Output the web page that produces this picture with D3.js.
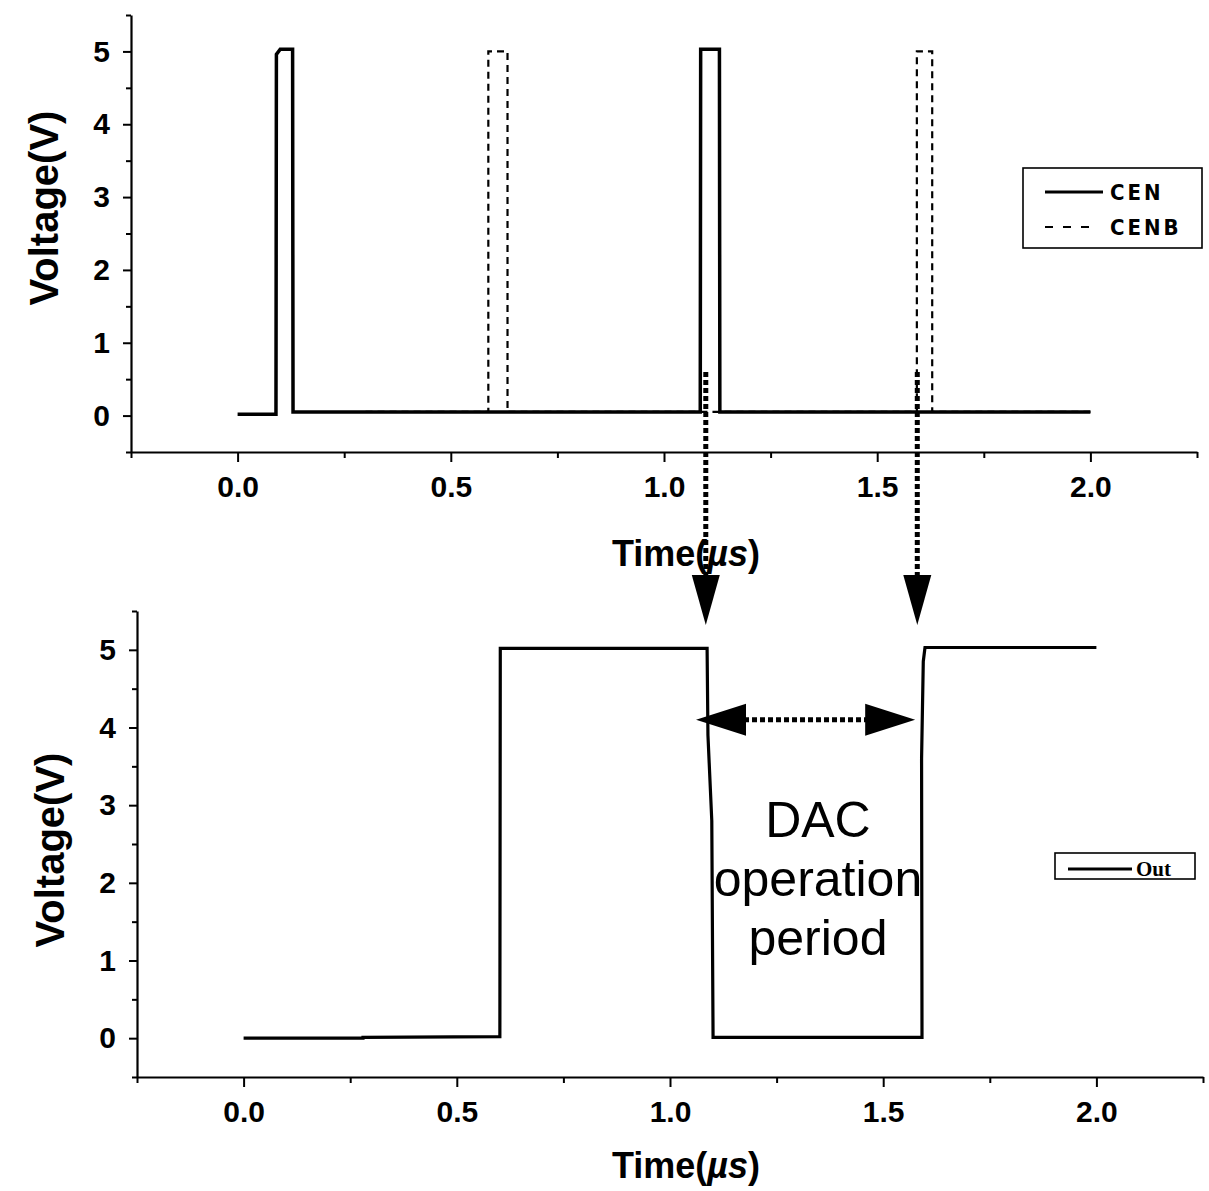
<!DOCTYPE html>
<html>
<head>
<meta charset="utf-8">
<script src="https://cdn.jsdelivr.net/npm/d3@7"></script>
<style>
  html, body { margin: 0; padding: 0; background: #fff; }
  svg { display: block; }
  .tick text { font-family: "Liberation Sans", Arial, sans-serif; font-weight: bold; }
</style>
</head>
<body>
<svg id="chart" width="1209" height="1191"></svg>
<script>
// ---------- data ----------
const cenT   = [0, 0.090, 0.091, 0.100, 0.129, 0.130, 0.60, 1.085, 1.086, 1.130, 1.131, 2.0];
const cenV   = [0.02, 0.02, 4.96, 5.03, 5.03, 0.05, 0.05, 0.05, 5.03, 5.03, 0.05, 0.05];
const cenbT  = [0.30, 0.588, 0.588, 0.633, 0.633, 1.593, 1.593, 1.629, 1.629, 2.0];
const cenbV  = [0.05, 0.05, 5.0, 5.0, 0.05, 0.05, 5.0, 5.0, 0.05, 0.05];
const outT   = [0, 0.28, 0.28, 0.601, 0.602, 1.087, 1.089, 1.098, 1.101, 1.591, 1.590, 1.594, 1.598, 2.0];
const outV   = [0.0, 0.0, 0.01, 0.02, 5.02, 5.02, 3.9, 2.8, 0.01, 0.01, 3.6, 4.85, 5.03, 5.03];
const yTicks = [0, 1, 2, 3, 4, 5];
const yMinor = [-0.5, 0.5, 1.5, 2.5, 3.5, 4.5, 5.5];
const xTicks = [0.0, 0.5, 1.0, 1.5, 2.0];
const xMinor = [-0.25, 0.25, 0.75, 1.25, 1.75, 2.25];
const xTickLabels = ["0.0", "0.5", "1.0", "1.5", "2.0"];
const topLegend = ["CEN", "CENB"];
const bottomLegend = ["Out"];
// annotation anchors (data coords)
const vArrowT = [1.098, 1.594];       // time of vertical arrows
const vArrowFrom = 0.6;               // top-panel voltage where arrow starts
const vArrowTo = 5.32;                // bottom-panel voltage at arrow tip
const hArrow = { t0: 1.061, t1: 1.575, v: 4.10 };
const noteLines = ["DAC", "operation", "period"];
const note = { t: 1.347, v: 2.59 };

const svg = d3.select("#chart");
const FONT = '"Liberation Sans", Arial, sans-serif';

function panel(cfg) {
  const x = d3.scaleLinear().domain([-0.25, 2.25]).range([cfg.x0, cfg.x1]);
  const y = d3.scaleLinear().domain([-0.5, 5.5]).range([cfg.y0, cfg.y1]);
  const g = svg.append("g");

  g.append("g").attr("transform", `translate(${cfg.x0},0)`)
    .call(d3.axisLeft(y).tickValues(yMinor).tickSize(5).tickSizeOuter(0).tickFormat(""))
    .call(s => s.select(".domain").remove())
    .selectAll("line").attr("stroke-width", 2);
  const ya = g.append("g").attr("transform", `translate(${cfg.x0},0)`)
    .call(d3.axisLeft(y).tickValues(yTicks).tickSize(8).tickSizeOuter(0).tickPadding(13).tickFormat(d3.format("d")));
  ya.select(".domain").attr("stroke-width", 2.2);
  ya.selectAll("line").attr("stroke-width", 2);
  ya.selectAll("text").attr("font-size", 30);

  g.append("g").attr("transform", `translate(0,${cfg.y0})`)
    .call(d3.axisBottom(x).tickValues(xMinor).tickSize(6).tickSizeOuter(0).tickFormat(""))
    .call(s => s.select(".domain").remove())
    .selectAll("line").attr("stroke-width", 2);
  const xa = g.append("g").attr("transform", `translate(0,${cfg.y0})`)
    .call(d3.axisBottom(x).tickValues(xTicks).tickSize(10).tickSizeOuter(0).tickPadding(14)
      .tickFormat((d, i) => xTickLabels[i]));
  xa.select(".domain").attr("stroke-width", 2.2);
  xa.selectAll("line").attr("stroke-width", 2);
  xa.selectAll("text").attr("font-size", 30);

  const tt = g.append("text")
    .attr("x", cfg.titleX).attr("y", cfg.titleY)
    .attr("text-anchor", "middle")
    .attr("font-family", FONT).attr("font-weight", "bold").attr("font-size", 36);
  tt.append("tspan").text("Time(");
  tt.append("tspan").attr("font-style", "italic").text("µs");
  tt.append("tspan").text(")");

  g.append("text")
    .attr("transform", `translate(${cfg.ylabX},${cfg.ylabY}) rotate(-90)`)
    .attr("text-anchor", "middle")
    .attr("font-family", FONT).attr("font-weight", "bold").attr("font-size", 40)
    .text("Voltage(V)");

  return { x, y, g };
}

const pTop = panel({ x0: 131, x1: 1197, y0: 452, y1: 15, titleX: 686, titleY: 566, ylabX: 58, ylabY: 208 });
const pBot = panel({ x0: 137, x1: 1203, y0: 1077, y1: 611, titleX: 686, titleY: 1178, ylabX: 64, ylabY: 850 });

// ---------- series ----------
function seriesLine(p, ts, vs) {
  return d3.line().x(d => p.x(d[0])).y(d => p.y(d[1]))(ts.map((t, i) => [t, vs[i]]));
}
pTop.g.append("path").attr("d", seriesLine(pTop, cenbT, cenbV))
  .attr("fill", "none").attr("stroke", "#000").attr("stroke-width", 2.2)
  .attr("stroke-dasharray", "7,5");
pTop.g.append("path").attr("d", seriesLine(pTop, cenT, cenV))
  .attr("fill", "none").attr("stroke", "#000").attr("stroke-width", 3.5)
  .attr("stroke-linejoin", "miter");
pBot.g.append("path").attr("d", seriesLine(pBot, outT, outV))
  .attr("fill", "none").attr("stroke", "#000").attr("stroke-width", 3.2)
  .attr("stroke-linejoin", "miter");

// ---------- legends ----------
const lg1 = svg.append("g");
lg1.append("rect").attr("x", 1023).attr("y", 168).attr("width", 179).attr("height", 80)
  .attr("fill", "#fff").attr("stroke", "#000").attr("stroke-width", 1.6);
topLegend.forEach((name, i) => {
  const yy = 192 + i * 35;
  lg1.append("line").attr("x1", 1045).attr("x2", i ? 1092 : 1103).attr("y1", yy).attr("y2", yy)
    .attr("stroke", "#000").attr("stroke-width", i ? 2 : 3)
    .attr("stroke-dasharray", i ? "8,10" : null);
  lg1.append("text").attr("x", 1110).attr("y", yy + 8)
    .attr("font-family", '"DejaVu Sans Condensed", "Liberation Sans Narrow", sans-serif')
    .attr("font-weight", "bold")
    .attr("font-size", 22).attr("letter-spacing", 3).attr("fill", "#000").text(name);
});

const lg2 = svg.append("g");
lg2.append("rect").attr("x", 1055).attr("y", 853).attr("width", 140).attr("height", 26)
  .attr("fill", "#fff").attr("stroke", "#000").attr("stroke-width", 1.6);
bottomLegend.forEach(name => {
  lg2.append("line").attr("x1", 1068).attr("x2", 1132).attr("y1", 869).attr("y2", 869)
    .attr("stroke", "#000").attr("stroke-width", 3);
  lg2.append("text").attr("x", 1136).attr("y", 876)
    .attr("font-family", '"Liberation Serif", "Times New Roman", serif')
    .attr("font-weight", "bold").attr("font-size", 21).text(name);
});

// ---------- annotations ----------
const ann = svg.append("g");
const headLen = 50, headHalf = 14;
vArrowT.forEach(t => {
  const xx = pTop.x(t);
  const y0 = pTop.y(vArrowFrom);
  const tip = pBot.y(vArrowTo);
  ann.append("line").attr("x1", xx).attr("x2", xx).attr("y1", y0).attr("y2", tip - headLen + 2)
    .attr("stroke", "#000").attr("stroke-width", 5).attr("stroke-dasharray", "5,3");
  ann.append("path")
    .attr("d", `M${xx - headHalf},${tip - headLen} L${xx + headHalf},${tip - headLen} L${xx},${tip} Z`)
    .attr("fill", "#000");
});
{
  const xa = pBot.x(hArrow.t0), xb = pBot.x(hArrow.t1), yy = pBot.y(hArrow.v);
  const hh = 16;
  ann.append("line").attr("x1", xa + headLen - 2).attr("x2", xb - headLen + 2).attr("y1", yy).attr("y2", yy)
    .attr("stroke", "#000").attr("stroke-width", 5).attr("stroke-dasharray", "5,3");
  ann.append("path").attr("d", `M${xa},${yy} L${xa + headLen},${yy - hh} L${xa + headLen},${yy + hh} Z`).attr("fill", "#000");
  ann.append("path").attr("d", `M${xb},${yy} L${xb - headLen},${yy - hh} L${xb - headLen},${yy + hh} Z`).attr("fill", "#000");
}
const nt = ann.append("text")
  .attr("x", pBot.x(note.t)).attr("y", pBot.y(note.v))
  .attr("text-anchor", "middle")
  .attr("font-family", FONT).attr("font-size", 50).attr("fill", "#000");
noteLines.forEach((s, i) => {
  nt.append("tspan").attr("x", pBot.x(note.t)).attr("dy", i ? 59 : 0).text(s);
});
</script>
</body>
</html>
